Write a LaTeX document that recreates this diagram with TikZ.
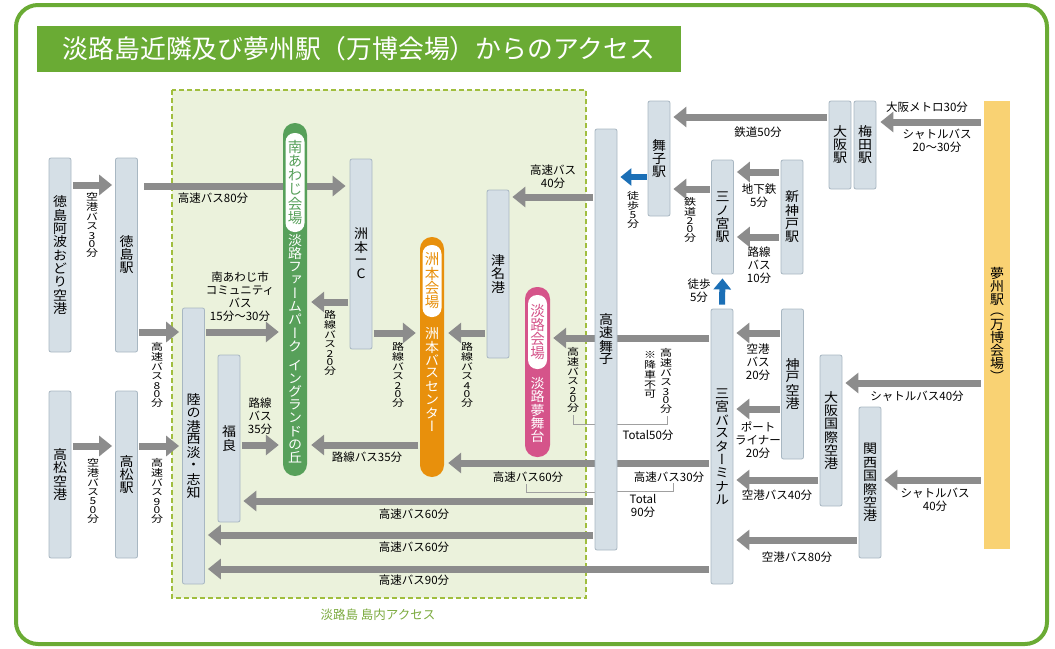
\documentclass[tikz,border=0pt]{standalone}
\usepackage{fontspec}
\usepackage{graphicx}
\setmainfont{Noto Sans CJK JP}
\newfontfamily\vfont{Noto Sans CJK JP}[RawFeature=+vert]
\usetikzlibrary{arrows.meta}
\pgfdeclarelayer{back}
\pgfdeclarelayer{arr}
\pgfsetlayers{back,arr,main}
\definecolor{boxfill}{HTML}{D5DFE6}
\definecolor{boxline}{HTML}{A8B7C2}
\definecolor{arrgray}{HTML}{8C8C8C}
\definecolor{areafill}{HTML}{EBF2DC}
\definecolor{arealine}{HTML}{A0BE3E}
\definecolor{framegreen}{HTML}{6AAB34}
\definecolor{pillgreen}{HTML}{57A05A}
\definecolor{pillorange}{HTML}{E8900C}
\definecolor{pillpink}{HTML}{D5548A}
\definecolor{yumeyellow}{HTML}{F9D273}
\definecolor{walkblue}{HTML}{1B6FB6}
\definecolor{labgreen}{HTML}{7BAA3E}
\definecolor{brkgray}{HTML}{A0A0A0}
\ExplSyntaxOn
\dim_new:N \l__vt_pitch_dim
\dim_new:N \l__vt_dpitch_dim
\dim_new:N \l__vt_cur_dim
\tl_new:N \l__vt_scale_tl
\NewDocumentCommand \vtext { O{1em} O{0.7em} O{1} m }
  {
    \group_begin:
    \vfont
    \dim_set:Nn \l__vt_pitch_dim {#1}
    \dim_set:Nn \l__vt_dpitch_dim {#2}
    \tl_set:Nn \l__vt_scale_tl {#3}
    \vbox:n
      {
        \offinterlineskip
        \tl_map_inline:nn {#4}
          {
            \str_if_in:nnTF { 0123456789 } {##1}
              { \dim_set_eq:NN \l__vt_cur_dim \l__vt_dpitch_dim }
              { \dim_set_eq:NN \l__vt_cur_dim \l__vt_pitch_dim }
            \vbox_to_ht:nn { \l__vt_cur_dim }
              {
                \vss
                \hbox_to_wd:nn { 1.2em }
                  { \hss \scalebox{1}[\l__vt_scale_tl]{##1} \hss }
                \vss
              }
          }
      }
    \group_end:
  }
\ExplSyntaxOff
\newcommand\rotI{\rotatebox[origin=c]{90}{I}}
\newcommand\lowch[1]{\raisebox{-2.5pt}[\height][\depth]{#1}}
\newcommand\stnt[1]{\vtext[13.3pt][9pt][0.93]{#1}}
\newcommand\vl[1]{\vtext[9.8pt][8.2pt][0.8]{#1}}
\newcommand\ptu[1]{\vtext[14.3pt][8pt][1]{#1}}
\newcommand\ptl[1]{\vtext[13.2pt][6pt][0.95]{#1}}
\tikzset{
  stn/.style={draw=boxline, fill=boxfill, line width=0.8pt, rounded corners=2pt,
    minimum width=22pt, inner sep=0pt, font=\fontsize{14}{14}\selectfont},
  pill/.style={minimum width=24pt, rounded corners=11.9pt, inner sep=0pt},
  pillin/.style={fill=white, minimum width=19pt, rounded corners=9pt, inner sep=0pt,
    font=\fontsize{14.5}{14.5}\selectfont},
  pilllow/.style={inner sep=0pt, text=white, font=\fontsize{14}{14}\selectfont},
  garr/.style={draw=arrgray, line width=7pt, -{Triangle[width=20pt,length=13pt]},
    shorten >=3pt, shorten <=1.5pt},
  barr/.style={draw=walkblue, line width=6pt, -{Triangle[width=17pt,length=11pt]},
    shorten >=3pt, shorten <=1pt},
  hlab/.style={font=\fontsize{11.5}{13}\selectfont, align=center, inner sep=0pt},
  vlab/.style={inner sep=0pt, font=\fontsize{12}{12}\selectfont},
  brk/.style={draw=brkgray, line width=1pt}
}
\begin{document}
\begin{tikzpicture}[x=1pt,y=-1pt]
\useasboundingbox (0,0) rectangle (1055,648);
% frame, title, island area
\begin{pgfonlayer}{back}
\draw[framegreen, line width=4pt, rounded corners=22pt] (16,5) rectangle (1047,644);
\draw[arealine, line width=1.5pt, dash pattern=on 5pt off 3pt, fill=areafill] (172,90) rectangle (586,598);
\end{pgfonlayer}
\node[fill=framegreen, minimum width=644pt, minimum height=46pt, inner sep=0pt,
  text=white, font=\fontsize{25.8}{26}\selectfont] (title) at (359,49)
  {淡路島近隣及び夢州駅（万博会場）からのアクセス};
\node[text=labgreen, font=\fontsize{12.5}{13}\selectfont, inner sep=0pt] (arealab) at (378,615) {淡路島 島内アクセス};

% stations
\node[stn, minimum height=194pt] (tkA) at (60,255) {\stnt{徳島阿波おどり空港}};
\node[stn, minimum height=194pt] (tkS) at (126.5,255) {\stnt{徳島駅}};
\node[stn, minimum height=167pt] (tmA) at (60,474.5) {\stnt{高松空港}};
\node[stn, minimum height=167pt] (tmS) at (126.5,474.5) {\stnt{高松駅}};
\node[stn, minimum height=276pt] (rk) at (193.5,446) {\stnt{陸の港西淡・志知}};
\node[stn, minimum height=167pt] (fk) at (229,438.5) {\stnt{福良}};
\node[stn, minimum height=190pt] (ic) at (361,254) {\stnt{洲本{\rotI}C}};
\node[stn, minimum height=168pt] (tn) at (498,274) {\stnt{津名港}};
\node[stn, minimum height=421pt] (mb) at (606,339.5) {\stnt{高速舞子}};
\node[stn, minimum height=115pt] (ms) at (659,158.5) {\stnt{舞子駅}};
\node[stn, minimum height=114pt] (sn) at (722.5,217) {\stnt{三ノ宮駅}};
\node[stn, minimum height=114pt] (sk) at (792,217) {\stnt{新神戸駅}};
\node[stn, minimum height=275pt] (sbt) at (722,446.5) {\stnt{三宮バスターミナル}};
\node[stn, minimum height=150pt] (kb) at (792.5,384) {\stnt{神戸空港}};
\node[stn, minimum height=151pt] (itm) at (831,430.5) {\stnt{大阪国際空港}};
\node[stn, minimum height=151pt] (kix) at (870,482.5) {\stnt{関西国際空港}};
\node[stn, minimum height=88pt] (os) at (840,145) {\stnt{大阪駅}};
\node[stn, minimum height=88pt] (um) at (865,145) {\stnt{梅田駅}};
\node[fill=yumeyellow, minimum width=26pt, minimum height=448pt, inner sep=0pt,
  font=\fontsize{14}{14}\selectfont] (ym) at (997,325) {\vtext[12.8pt][8pt][0.95]{夢州駅{\lowch{（}}万博会場）}};

% venue pills
\node[pill, fill=pillgreen, minimum height=353pt] (mn) at (295,299.5) {};
\node[pillin, minimum height=99pt, text=pillgreen] (mnU) at (295,182.5) {\ptu{南あわじ会場}};
\node[pilllow] (mnL) at (295,349) {\ptl{淡路ファームパーク{}イングランドの丘}};
\node[pill, fill=pillorange, minimum height=240pt] (sm) at (432,357) {};
\node[pillin, minimum height=72pt, text=pillorange] (smU) at (432,281) {\ptu{洲本会場}};
\node[pilllow] (smL) at (432,380) {\ptl{洲本バスセンター}};
\node[pill, fill=pillpink, minimum width=25pt, minimum height=170pt] (aw) at (537.5,372) {};
\node[pillin, minimum height=74pt, text=pillpink] (awU) at (537.5,332) {\ptu{淡路会場}};
\node[pilllow] (awL) at (537.5,410) {\ptl{淡路夢舞台}};

% connectors
\begin{pgfonlayer}{arr}
\draw[garr] (tkA.east |- 0,185) -- (tkS.west |- 0,185);
\draw[garr, shorten <=6.5pt, shorten >=4pt] (tkS.east |- 0,186) -- (ic.west |- 0,186);
\draw[garr] (tkS.east |- 0,332) -- (rk.west |- 0,332);
\draw[garr] (tmA.east |- 0,446) -- (tmS.west |- 0,446);
\draw[garr] (tmS.east |- 0,446) -- (rk.west |- 0,446);
\draw[garr, shorten >=4pt] (rk.east |- 0,332) -- (mn.west |- 0,332);
\draw[garr, shorten >=4pt] (ic.west |- 0,302) -- (mn.east |- 0,302);
\draw[garr, shorten >=4pt] (ic.east |- 0,333) -- (sm.west |- 0,333);
\draw[garr, shorten >=4pt] (fk.east |- 0,445) -- (mn.west |- 0,445);
\draw[garr, shorten >=4pt] (sm.west |- 0,445) -- (mn.east |- 0,445);
\draw[garr, shorten >=4pt] (tn.west |- 0,333) -- (sm.east |- 0,333);
\draw[garr] (mb.west |- 0,197) -- (tn.east |- 0,197);
\draw[garr] (sbt.west |- 0,338) -- (aw.east |- 0,338);
\draw[garr, shorten >=4pt] (sbt.west |- 0,463) -- (sm.east |- 0,463);
\draw[garr] (mb.west |- 0,501) -- (fk.east |- 0,501);
\draw[garr] (mb.west |- 0,535) -- (rk.east |- 0,535);
\draw[garr] (sbt.west |- 0,569) -- (rk.east |- 0,569);
\draw[garr] (sn.west |- 0,189) -- (ms.east |- 0,189);
\draw[garr] (sk.west |- 0,172) -- (sn.east |- 0,172);
\draw[garr] (sk.west |- 0,237) -- (sn.east |- 0,237);
\draw[garr] (os.west |- 0,117) -- (ms.east |- 0,117);
\draw[garr, shorten >=4pt, shorten <=3pt] (ym.west |- 0,122) -- (um.east |- 0,122);
\draw[garr] (kb.west |- 0,333) -- (sbt.east |- 0,333);
\draw[garr] (kb.west |- 0,409) -- (sbt.east |- 0,409);
\draw[garr] (itm.west |- 0,480) -- (sbt.east |- 0,480);
\draw[garr] (kix.west |- 0,540) -- (sbt.east |- 0,540);
\draw[garr, shorten <=3pt] (ym.west |- 0,383) -- (itm.east |- 0,383);
\draw[garr, shorten <=3pt] (ym.west |- 0,480) -- (kix.east |- 0,480);
\draw[barr] (ms.west |- 0,177) -- (mb.east |- 0,177);
\draw[barr, shorten <=4pt, shorten >=4pt] (sbt.north) -- (sn.south);
% total brackets
\coordinate (b1) at (573,415);
\coordinate (b2) at (667,416);
\coordinate (b3) at (526,484);
\coordinate (b4) at (673,483);
\draw[brk] (b1) |- (mb.west |- 0,424);
\draw[brk] (b2) |- (mb.east |- 0,424);
\draw[brk] (b3) |- (mb.west |- 0,492);
\draw[brk] (b4) |- (mb.east |- 0,491);
\end{pgfonlayer}

% vertical labels
\node[vlab] (v1) at (92,225) {\vl{空港バス30分}};
\node[vlab] (v2) at (157,375) {\vl{高速バス80分}};
\node[vlab] (v3) at (93,491) {\vl{空港バス50分}};
\node[vlab] (v4) at (157,491) {\vl{高速バス90分}};
\node[vlab] (v5) at (330,343) {\vl{路線バス20分}};
\node[vlab] (v6) at (398,375) {\vl{路線バス20分}};
\node[vlab] (v7) at (467,375) {\vl{路線バス40分}};
\node[vlab] (v8) at (573,380) {\vl{高速バス20分}};
\node[vlab] (v9) at (650,375) {\vl{※降車不可}};
\node[vlab] (v10) at (666,381) {\vl{高速バス30分}};
\node[vlab] (v11) at (633,210) {\vl{徒歩5分}};
\node[vlab] (v12) at (690,220) {\vl{鉄道20分}};

% horizontal labels
\node[hlab] (h1) at (213,198) {高速バス80分};
\node[hlab] (h2) at (240,297) {南あわじ市\\コミュニティ\\バス\\15分〜30分};
\node[hlab] (h3) at (260,416) {路線\\バス\\35分};
\node[hlab] (h4) at (367,457) {路線バス35分};
\node[hlab] (h5) at (553,177) {高速バス\\40分};
\node[hlab] (h6) at (648,435) {Total50分};
\node[hlab] (h7) at (528,477) {高速バス60分};
\node[hlab] (h8) at (669,477) {高速バス30分};
\node[hlab] (h9) at (643,506) {Total\\90分};
\node[hlab] (h10) at (414,514) {高速バス60分};
\node[hlab] (h11) at (414,547) {高速バス60分};
\node[hlab] (h12) at (414,580) {高速バス90分};
\node[hlab] (h13) at (758,132) {鉄道50分};
\node[hlab] (h14) at (759,196) {地下鉄\\5分};
\node[hlab] (h15) at (759,265) {路線\\バス\\10分};
\node[hlab] (h16) at (699,291) {徒歩\\5分};
\node[hlab] (h17) at (927,107) {大阪メトロ30分};
\node[hlab] (h18) at (937,141) {シャトルバス\\20〜30分};
\node[hlab] (h19) at (758,362) {空港\\バス\\20分};
\node[hlab] (h20) at (758,440) {ポート\\ライナー\\20分};
\node[hlab] (h21) at (777,495) {空港バス40分};
\node[hlab] (h22) at (797,557) {空港バス80分};
\node[hlab] (h23) at (917,396) {シャトルバス40分};
\node[hlab] (h24) at (935,500) {シャトルバス\\40分};
\end{tikzpicture}
\end{document}
